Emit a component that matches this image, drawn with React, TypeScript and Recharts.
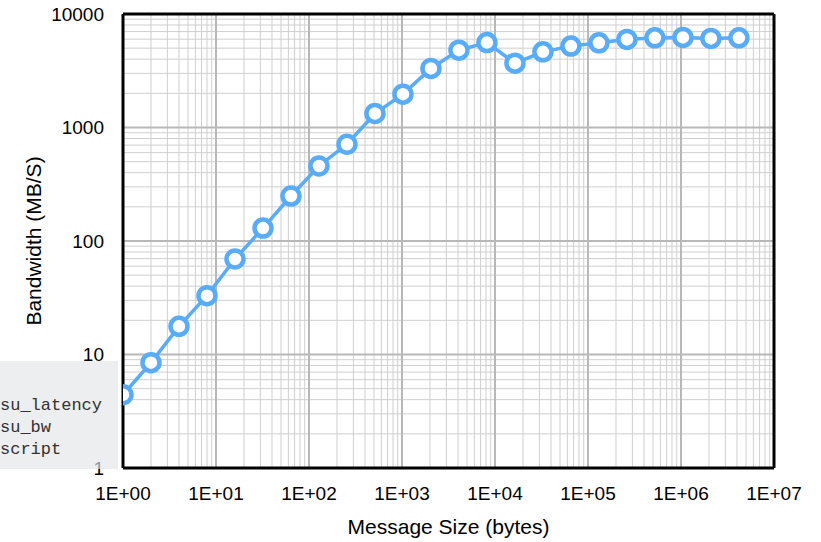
import { LineChart, Line, XAxis, YAxis, ReferenceLine } from 'recharts';

// message sizes (bytes) and measured bandwidth (MB/s)
const sizes = [
  1, 2, 4, 8, 16, 32, 64, 128, 256, 512, 1024, 2048, 4096, 8192, 16384,
  32768, 65536, 131072, 262144, 524288, 1048576, 2097152, 4194304,
];
const bandwidth = [
  4.42, 8.47, 17.7, 33.0, 69.4, 130, 249, 458, 712, 1329, 1967, 3314, 4805,
  5595, 3690, 4642, 5212, 5572, 5970, 6166, 6220, 6095, 6166,
];

const xTicks = [1, 10, 100, 1000, 1e4, 1e5, 1e6, 1e7];
const yTicks = [1, 10, 100, 1000, 10000];
const overlayLines = ['su_latency', 'su_bw', 'script'];

const data = sizes.map((s, i) => ({ size: s, bw: bandwidth[i] }));

// log grid: minor lines at 2..9 of every decade, major lines at the decades
const minorsOf = (decades: number) => {
  const out: number[] = [];
  for (let d = 0; d < decades; d++) {
    for (let m = 2; m <= 9; m++) out.push(m * Math.pow(10, d));
  }
  return out;
};
const xMinor = minorsOf(7);
const yMinor = minorsOf(4);
const xMajor = xTicks.slice(1, -1);
const yMajor = yTicks.slice(1, -1);

const sci = (v: number) => {
  const e = Math.round(Math.log10(v));
  return `1E+${String(e).padStart(2, '0')}`;
};

const FONT = 'Liberation Sans, Arial, sans-serif';
const BLUE = '#58acfa';

// y title centred on the plot height, like the spreadsheet default
const YTitle = (props: any) => {
  const vb = props.viewBox || {};
  const x = (vb.x ?? 0) + 33;
  const y = (vb.y ?? 0) + (vb.height ?? 0) / 2;
  return (
    <text
      x={x}
      y={y}
      transform={`rotate(-90, ${x}, ${y})`}
      textAnchor="middle"
      dominantBaseline="central"
      fill="#000"
      fontSize={21}
      fontFamily={FONT}
    >
      Bandwidth (MB/S)
    </text>
  );
};

export default function App() {
  return (
    <div style={{ position: 'absolute', left: 0, top: 0, width: 821, height: 542, background: '#fff' }}>
      <LineChart
        width={821}
        height={542}
        data={data}
        margin={{ top: 14, right: 47, left: 0, bottom: 0 }}
      >
        <XAxis
          dataKey="size"
          type="number"
          scale="log"
          domain={[1, 1e7]}
          ticks={xTicks}
          tickFormatter={sci}
          allowDataOverflow
          axisLine={false}
          tickLine={false}
          tickSize={6}
          tickMargin={13}
          height={74}
          tick={{ fill: '#000', fontSize: 19, fontFamily: FONT }}
          label={{
            value: 'Message Size (bytes)',
            position: 'insideBottom',
            offset: 8,
            fill: '#000',
            fontSize: 21,
            fontFamily: FONT,
          }}
        />
        <YAxis
          type="number"
          scale="log"
          domain={[1, 10000]}
          ticks={yTicks}
          allowDataOverflow
          axisLine={false}
          tickLine={false}
          tickSize={6}
          tickMargin={13}
          width={123}
          tick={{ fill: '#000', fontSize: 19, fontFamily: FONT }}
          label={{ content: YTitle }}
        />
        {xMinor.map((v) => (
          <ReferenceLine key={`xm${v}`} x={v} stroke="#cfcfcf" strokeWidth={1} />
        ))}
        {yMinor.map((v) => (
          <ReferenceLine key={`ym${v}`} y={v} stroke="#cfcfcf" strokeWidth={1} />
        ))}
        {xMajor.map((v) => (
          <ReferenceLine key={`xM${v}`} x={v} stroke="#b8b8b8" strokeWidth={2} />
        ))}
        {yMajor.map((v) => (
          <ReferenceLine key={`yM${v}`} y={v} stroke="#b8b8b8" strokeWidth={2} />
        ))}
        <Line
          dataKey="bw"
          stroke={BLUE}
          strokeWidth={3.5}
          dot={{ r: 8.5, stroke: BLUE, strokeWidth: 4.5, fill: '#fff' }}
          isAnimationActive={false}
        />
        <ReferenceLine x={1} stroke="#000" strokeWidth={3} />
        <ReferenceLine x={1e7} stroke="#000" strokeWidth={3} />
        <ReferenceLine y={1} stroke="#000" strokeWidth={3} />
        <ReferenceLine y={10000} stroke="#000" strokeWidth={3} />
      </LineChart>
      <div
        style={{
          position: 'absolute',
          left: 0,
          top: 361,
          width: 118,
          height: 108,
          background: 'rgba(228, 229, 232, 0.65)',
          overflow: 'hidden',
        }}
      >
        <div
          style={{
            position: 'absolute',
            left: 0,
            top: 34,
            fontFamily: 'Liberation Mono, Courier New, monospace',
            fontSize: 17,
            lineHeight: '22px',
            color: '#333',
            whiteSpace: 'pre',
          }}
        >
          {overlayLines.join('\n')}
        </div>
      </div>
    </div>
  );
}
